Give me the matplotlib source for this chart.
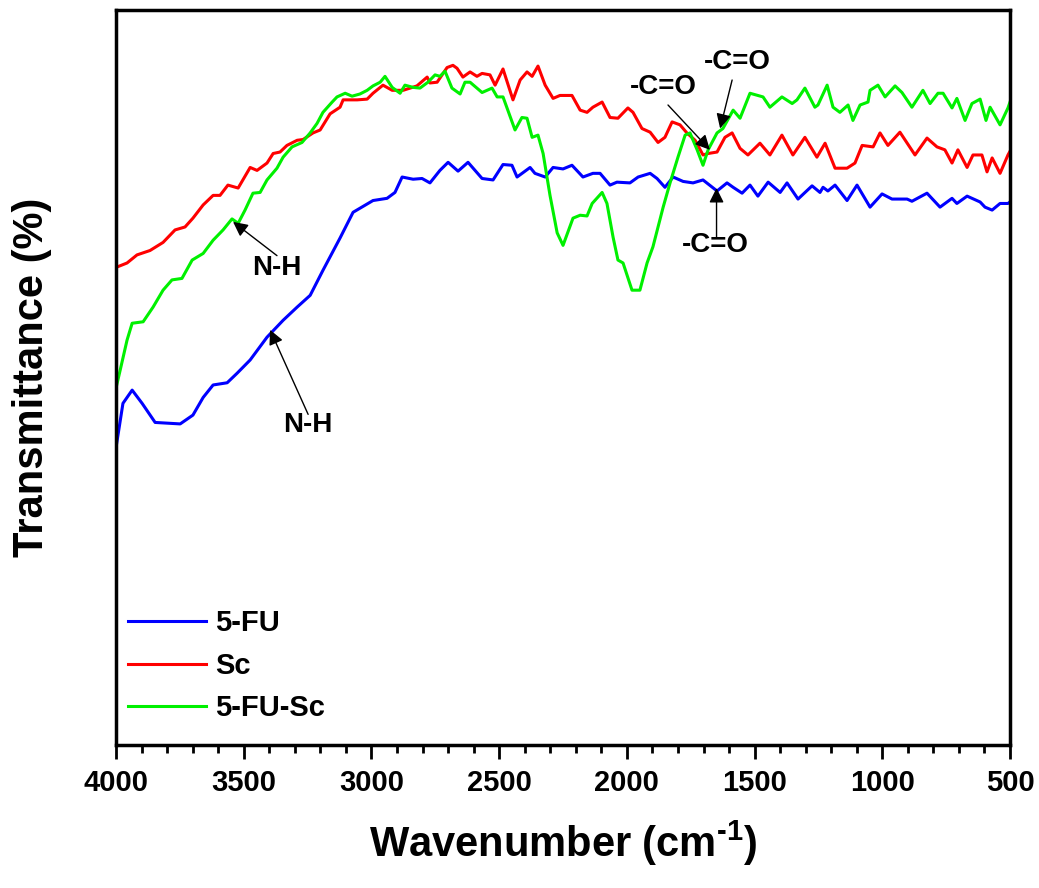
import matplotlib
matplotlib.use("Agg")
import matplotlib.pyplot as plt
from matplotlib.ticker import MultipleLocator

plt.rcParams['font.family'] = ['Liberation Sans', 'DejaVu Sans']
plt.rcParams['font.weight'] = 'bold'
plt.rcParams['mathtext.fontset'] = 'custom'
plt.rcParams['mathtext.rm'] = 'Liberation Sans:bold'
plt.rcParams['mathtext.bf'] = 'Liberation Sans:bold'

# 5-FU (blue)
fu_wn = [4000, 3973, 3937, 3898, 3847, 3749, 3699, 3659, 3620, 3565, 3526, 3475,
         3409, 3346, 3291, 3240, 3190, 3123, 3072, 2994, 2939, 2908, 2880, 2837,
         2802, 2771, 2732, 2700, 2661, 2622, 2567, 2524, 2485, 2450, 2430, 2379,
         2360, 2320, 2289, 2250, 2215, 2172, 2133, 2105, 2066, 2039, 1988, 1956,
         1909, 1882, 1851, 1819, 1780, 1741, 1702, 1647, 1608, 1584, 1549, 1518,
         1487, 1447, 1400, 1373, 1330, 1275, 1244, 1232, 1213, 1185, 1138, 1099,
         1048, 1001, 962, 903, 884, 825, 774, 727, 708, 668, 617, 598, 570, 539,
         508, 500]
fu_t = [40.5, 46.5, 48.3, 46.5, 43.9, 43.7, 44.9, 47.3, 49.0, 49.3, 50.6, 52.4,
        55.5, 57.8, 59.6, 61.2, 64.6, 69.0, 72.5, 74.1, 74.4, 75.2, 77.3, 77.0,
        77.1, 76.5, 78.2, 79.3, 78.1, 79.3, 77.1, 76.9, 79.0, 78.9, 77.3, 78.6,
        77.8, 77.3, 78.6, 78.4, 78.9, 77.3, 77.8, 77.8, 76.2, 76.6, 76.5, 77.3,
        77.8, 77.1, 75.9, 77.3, 76.7, 76.5, 76.9, 75.4, 76.5, 75.9, 75.1, 76.2,
        74.7, 76.6, 75.2, 76.5, 74.3, 76.1, 75.2, 75.9, 75.4, 76.2, 74.1, 76.2,
        73.2, 75.0, 74.3, 74.3, 74.0, 75.1, 73.2, 74.4, 73.7, 74.7, 73.9, 73.2,
        72.8, 73.7, 73.7, 73.9]

# Sc (red)
sc_wn = [4000, 3957, 3918, 3867, 3816, 3769, 3730, 3699, 3659, 3620, 3593, 3562,
         3522, 3475, 3448, 3409, 3385, 3358, 3331, 3291, 3268, 3229, 3201, 3162,
         3123, 3111, 3056, 3017, 2994, 2955, 2919, 2876, 2822, 2782, 2771, 2743,
         2704, 2681, 2665, 2642, 2614, 2587, 2567, 2536, 2516, 2485, 2446, 2418,
         2391, 2371, 2348, 2320, 2289, 2262, 2215, 2183, 2156, 2133, 2097, 2066,
         2035, 1996, 1976, 1941, 1909, 1878, 1851, 1823, 1792, 1765, 1733, 1702,
         1682, 1647, 1616, 1588, 1557, 1526, 1479, 1440, 1393, 1350, 1303, 1256,
         1224, 1185, 1138, 1107, 1079, 1036, 1009, 978, 931, 872, 825, 786, 755,
         727, 704, 668, 645, 610, 590, 570, 539, 508, 500]
sc_t = [65.0, 65.6, 66.7, 67.3, 68.4, 70.1, 70.5, 71.7, 73.5, 74.8, 74.8, 76.2,
        75.8, 78.6, 78.2, 79.2, 80.5, 80.7, 81.6, 82.3, 82.4, 83.3, 83.7, 85.9,
        86.8, 87.8, 87.8, 87.9, 88.7, 89.8, 89.1, 89.1, 89.7, 90.9, 90.1, 90.2,
        92.2, 92.5, 92.1, 90.9, 91.6, 91.0, 91.4, 91.2, 89.8, 92.0, 87.8, 90.5,
        91.6, 91.0, 92.4, 89.8, 88.0, 88.4, 88.4, 86.4, 86.1, 86.8, 87.5, 85.4,
        85.3, 86.7, 86.1, 83.9, 83.4, 82.0, 82.7, 84.8, 84.4, 83.3, 82.3, 80.3,
        80.5, 80.7, 82.7, 83.3, 81.2, 80.3, 81.9, 80.3, 83.0, 80.3, 82.7, 80.0,
        81.9, 78.5, 78.5, 79.2, 81.6, 81.4, 83.3, 81.6, 83.4, 80.3, 82.6, 81.4, 81.0,
        79.2, 81.0, 78.6, 80.3, 80.3, 78.0, 79.9, 77.8, 80.3, 80.8]

# 5-FU-Sc (green)
fusc_wn = [4000, 3984, 3957, 3937, 3894, 3855, 3816, 3781, 3742, 3702, 3659, 3620,
           3581, 3546, 3522, 3495, 3464, 3436, 3409, 3370, 3346, 3311, 3272, 3240,
           3213, 3190, 3154, 3135, 3103, 3076, 3045, 3017, 2994, 2966, 2947, 2919,
           2888, 2869, 2837, 2810, 2779, 2751, 2732, 2712, 2685, 2653, 2634, 2614,
           2567, 2528, 2508, 2485, 2438, 2411, 2391, 2371, 2348, 2328, 2301, 2273,
           2250, 2211, 2183, 2156, 2136, 2097, 2078, 2054, 2035, 2015, 1980, 1949,
           1921, 1898, 1858, 1831, 1800, 1772, 1753, 1725, 1702, 1682, 1647, 1624,
           1584, 1557, 1518, 1467, 1440, 1393, 1353, 1334, 1303, 1264, 1252, 1216,
           1193, 1166, 1134, 1115, 1087, 1056, 1048, 1017, 989, 950, 923, 884, 841,
           813, 782, 762, 727, 708, 676, 649, 617, 594, 578, 539, 508, 500]
fusc_t = [48.6, 51.0, 55.1, 57.4, 57.6, 59.6, 61.9, 63.3, 63.5, 66.0, 66.9, 68.7,
          70.1, 71.6, 71.0, 72.8, 75.1, 75.2, 76.9, 78.5, 80.0, 81.4, 82.0, 83.3,
          84.6, 86.1, 87.5, 88.2, 88.7, 88.3, 88.6, 89.1, 89.7, 90.2, 91.0, 89.5,
          88.7, 89.8, 89.5, 89.4, 90.2, 91.2, 91.0, 91.7, 89.4, 88.6, 90.2, 90.2,
          88.8, 89.4, 88.2, 88.2, 83.7, 85.4, 85.3, 82.7, 83.0, 80.5, 74.8, 69.7,
          68.0, 71.7, 72.1, 72.0, 73.7, 75.2, 73.7, 69.1, 66.0, 65.6, 61.9, 61.9,
          65.6, 67.8, 73.2, 76.5, 80.0, 83.0, 83.3, 81.0, 78.9, 81.0, 83.3, 83.9,
          86.4, 85.3, 88.7, 88.2, 86.8, 88.2, 87.3, 87.8, 89.4, 86.8, 87.1, 89.8,
          86.8, 86.1, 87.1, 85.0, 87.1, 87.5, 89.1, 89.8, 88.2, 89.7, 88.8, 86.8, 89.1,
          87.3, 88.7, 88.7, 86.7, 88.0, 85.0, 87.3, 87.9, 85.0, 86.8, 84.4, 86.7, 87.5]

series = [
    (fu_wn, fu_t, '#0000ff', '5-FU'),
    (sc_wn, sc_t, '#ff0000', 'Sc'),
    (fusc_wn, fusc_t, '#00f000', '5-FU-Sc'),
]

# label text, text position, arrow tail, arrow head
notes = [
    ('N-H', (3370, 64.9), (3370, 66.6), (3542, 71.2)),
    ('N-H', (3248, 43.5), (3248, 45.0), (3397, 56.5)),
    ('-C=O', (1859, 89.5), (1839, 87.1), (1675, 81.0)),
    ('-C=O', (1569, 92.9), (1588, 90.5), (1635, 83.9)),
    ('-C=O', (1655, 68.0), (1649, 69.1), (1649, 75.8)),
]

fig = plt.figure(figsize=(10.39, 8.88), dpi=100)
ax = fig.add_axes([0.1117, 0.161, 0.8604, 0.8275])

for wn, t, color, name in series:
    ax.plot(wn, t, color=color, lw=2.2, label=name)

for label, txt, tail, head in notes:
    ax.annotate('', xy=head, xytext=tail,
                arrowprops=dict(arrowstyle='-|>', color='black', lw=1.0,
                                mutation_scale=22, shrinkA=0, shrinkB=0))
    ax.text(txt[0], txt[1], label, fontsize=20, fontweight='bold',
            ha='center', va='center')

ax.set_xlim(4000, 500)
ax.set_ylim(0, 100)
ax.xaxis.set_major_locator(MultipleLocator(500))
ax.xaxis.set_minor_locator(MultipleLocator(100))
ax.tick_params(axis='x', which='major', length=10, width=2, labelsize=21, pad=7)
ax.tick_params(axis='x', which='minor', length=6, width=2)
ax.tick_params(axis='y', which='both', left=False, labelleft=False)
for s in ax.spines.values():
    s.set_linewidth(2.5)

ax.set_xlabel('Wavenumber (cm$^{\\text{-1}}$)', fontsize=30, fontweight='bold',
              labelpad=16)
ax.set_ylabel('Transmittance (%)', fontsize=30, fontweight='bold', labelpad=46)

leg = ax.legend(loc='lower left', bbox_to_anchor=(0.0, 0.015), frameon=False,
                fontsize=21, handlelength=2.7, handletextpad=0.3,
                labelspacing=0.5, borderaxespad=0.2, borderpad=0.2)
for line in leg.get_lines():
    line.set_linewidth(2.2)

fig.savefig('out.png', dpi=100)
